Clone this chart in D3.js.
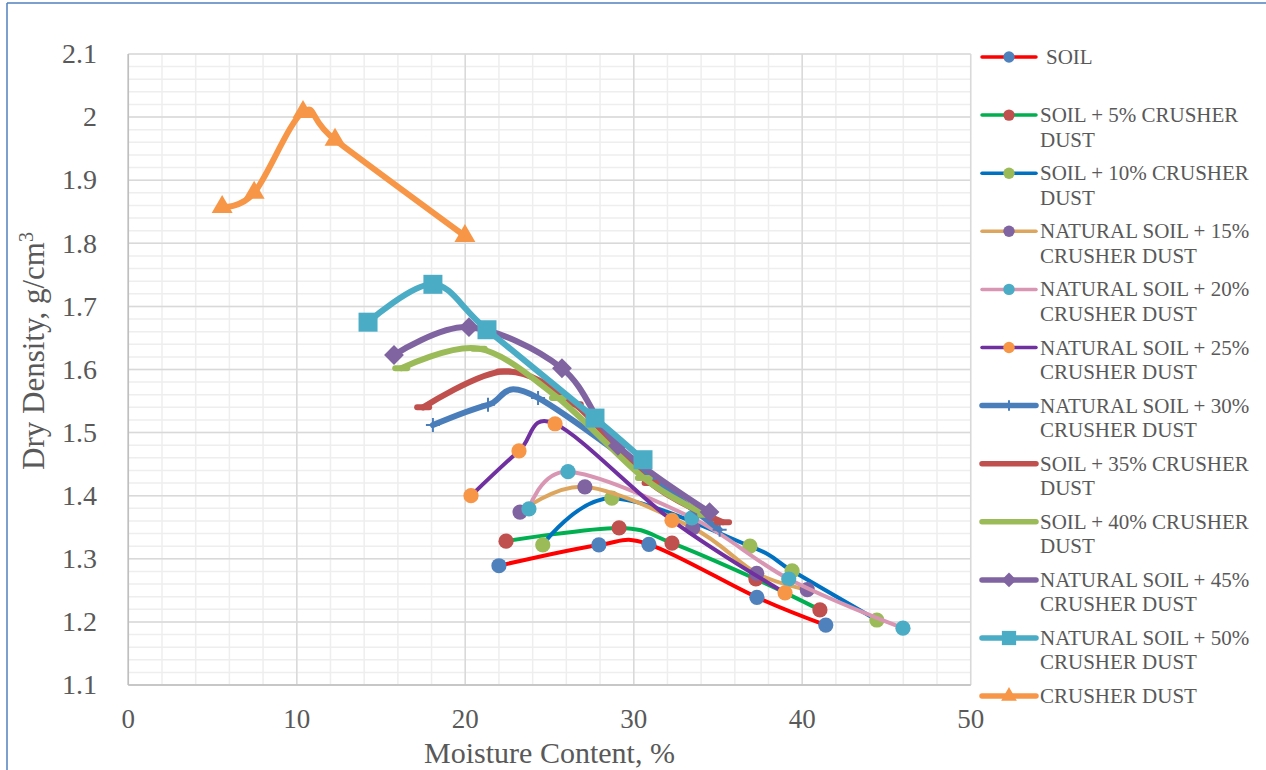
<!DOCTYPE html>
<html><head><meta charset="utf-8">
<script src="https://cdn.jsdelivr.net/npm/d3@7"></script>
<style>
body{margin:0;background:#fff}
svg{display:block}
text{font-family:"Liberation Serif","Times New Roman",serif;fill:#595959}
</style>
</head><body>
<svg id="c" width="1266" height="770"></svg>
<script>
// ---- data (moisture %, dry density g/cm3) ----
const soil  = [[22.0,1.289],[27.93,1.322],[30.9,1.323],[37.31,1.239],[41.4,1.195]];
const cd5   = [[22.42,1.328],[29.13,1.349],[32.27,1.325],[37.25,1.268],[41.05,1.219]];
const cd10  = [[24.6,1.322],[28.7,1.396],[36.9,1.320],[39.4,1.281],[44.43,1.203]];
const ns15  = [[23.25,1.374],[27.1,1.414],[33.5,1.349],[37.3,1.277],[40.3,1.251]];
const ns20  = [[23.78,1.379],[26.1,1.438],[33.45,1.365],[39.2,1.268],[45.98,1.19]];
const ns25  = [[20.34,1.40],[23.19,1.471],[25.33,1.514],[32.27,1.361],[38.98,1.246]];
const ns30  = [[18.08,1.512],[21.35,1.544],[24.32,1.555],[35.1,1.346]];
const cd35  = [[17.5,1.54],[22.3,1.597],[26.5,1.545],[31.0,1.42],[35.3,1.358]];
const cd40  = [[16.2,1.602],[20.8,1.633],[25.5,1.555],[30.6,1.428],[34.3,1.37]];
const ns45  = [[15.77,1.623],[20.22,1.667],[25.74,1.602],[29.06,1.479],[34.5,1.374]];
const ns50  = [[14.23,1.675],[18.08,1.735],[21.29,1.663],[27.7,1.523],[30.55,1.457]];
const dust  = [[5.57,1.8575],[7.47,1.88],[10.37,2.008],[12.27,1.964],[19.98,1.8116]];

const seriesData = [soil, cd5, cd10, ns15, ns20, ns25, ns30, cd35, cd40, ns45, ns50, dust];
const legendLines = [
  ["SOIL"],
  ["SOIL + 5% CRUSHER","DUST"],
  ["SOIL + 10% CRUSHER","DUST"],
  ["NATURAL SOIL + 15%","CRUSHER DUST"],
  ["NATURAL SOIL + 20%","CRUSHER DUST"],
  ["NATURAL SOIL + 25%","CRUSHER DUST"],
  ["NATURAL SOIL + 30%","CRUSHER DUST"],
  ["SOIL + 35% CRUSHER","DUST"],
  ["SOIL + 40% CRUSHER","DUST"],
  ["NATURAL SOIL + 45%","CRUSHER DUST"],
  ["NATURAL SOIL + 50%","CRUSHER DUST"],
  ["CRUSHER DUST"]
];
const xTicks = [0,10,20,30,40,50];
const yTicks = [1.1,1.2,1.3,1.4,1.5,1.6,1.7,1.8,1.9,2,2.1];
const xTitle = "Moisture Content, %";
const yTitle = "Dry Density, g/cm";

// ---- styles ----
const lineColors   = ["#ff0000","#00b050","#0070c0","#dda65f","#d996b2","#7030a0","#4a7ebb","#c0504d","#9bbb59","#8064a2","#4bacc6","#f79646"];
const markerColors = ["#4f81bd","#c0504d","#9bbb59","#8064a2","#4bacc6","#f79646","#4a7ebb","#c0504d","#9bbb59","#8064a2","#4bacc6","#f79646"];
const markerTypes  = ["circle","circle","circle","circle","circle","circle","plus","dash","dash","diamond","square","triangle"];
const lineWidths   = [4,4,4,4,4,4,6,6,6,6,6,6];

const svg = d3.select("#c");
const L = 128.3, R = 970.7, T = 54, B = 685;
const x = d3.scaleLinear().domain([0,50]).range([L,R]);
const y = d3.scaleLinear().domain([1.1,2.1]).range([B,T]);

// frame
svg.append("line").attr("x1",7).attr("x2",7).attr("y1",3).attr("y2",770).attr("stroke","#4f81bd").attr("stroke-width",1.5);
svg.append("line").attr("x1",7).attr("x2",1266).attr("y1",3).attr("y2",3).attr("stroke","#4f81bd").attr("stroke-width",1.5);

// gridlines
const g = svg.append("g");
const minorX = d3.range(0,50.001,2), minorY = d3.range(0,51).map(i=>1.1+i*0.02);
g.selectAll(".mx").data(minorX).join("line").attr("x1",d=>x(d)).attr("x2",d=>x(d)).attr("y1",T).attr("y2",B).attr("stroke","#eeeeee").attr("stroke-width",1.5);
g.selectAll(".my").data(minorY).join("line").attr("y1",d=>y(d)).attr("y2",d=>y(d)).attr("x1",L).attr("x2",R).attr("stroke","#eeeeee").attr("stroke-width",1.5);
g.selectAll(".Mx").data(xTicks).join("line").attr("x1",d=>x(d)).attr("x2",d=>x(d)).attr("y1",T).attr("y2",B).attr("stroke","#d9d9d9").attr("stroke-width",1.5);
g.selectAll(".My").data(yTicks).join("line").attr("y1",d=>y(d)).attr("y2",d=>y(d)).attr("x1",L).attr("x2",R).attr("stroke","#d9d9d9").attr("stroke-width",1.5);
// axis lines
g.append("line").attr("x1",L).attr("x2",L).attr("y1",T).attr("y2",B).attr("stroke","#bfbfbf").attr("stroke-width",1.5);
g.append("line").attr("x1",L).attr("x2",R).attr("y1",B).attr("y2",B).attr("stroke","#bfbfbf").attr("stroke-width",1.5);

// tick labels
svg.selectAll(".xt").data(xTicks).join("text").attr("x",d=>x(d)).attr("y",728)
  .attr("text-anchor","middle").attr("font-size",27).text(d=>d);
svg.selectAll(".yt").data(yTicks).join("text").attr("x",97).attr("y",d=>y(d)).attr("dy","0.33em")
  .attr("text-anchor","end").attr("font-size",28).text(d=>d3.format("")(d));

// titles
svg.append("text").attr("x",(L+R)/2).attr("y",763).attr("text-anchor","middle").attr("font-size",30).text(xTitle);
const yt = svg.append("text").attr("transform","translate(44,351) rotate(-90)").attr("text-anchor","middle").attr("font-size",31);
yt.append("tspan").text(yTitle);
yt.append("tspan").attr("font-size",20).attr("dy",-11).text("3");

// marker drawing
function drawMarker(sel, type, color, scale){
  const s = scale||1;
  if(type==="circle"){
    sel.append("circle").attr("r",7.6*s).attr("fill",color);
  } else if(type==="square"){
    sel.append("path").attr("d",d3.symbol(d3.symbolSquare, 19*19*s*s)()).attr("fill",color);
  } else if(type==="diamond"){
    sel.append("path").attr("d",d3.symbol(d3.symbolSquare, 14*14*s*s)()).attr("transform","rotate(45)").attr("fill",color);
  } else if(type==="triangle"){
    sel.append("path").attr("d",d3.symbol(d3.symbolTriangle, 190*s*s)()).attr("fill",color);
  } else if(type==="plus"){
    const h=7*s;
    sel.append("path").attr("d",`M${-h},0H${h}M0,${-h}V${h}`).attr("stroke",color).attr("stroke-width",2);
  } else if(type==="dash"){
    const h=6*s;
    sel.append("path").attr("d",`M${-h},0H${h}`).attr("stroke",color).attr("stroke-width",6).attr("stroke-linecap","round");
  }
}

// series
const line = d3.line().x(d=>x(d[0])).y(d=>y(d[1])).curve(d3.curveCardinal.tension(0));
seriesData.forEach((data,i)=>{
  const sg = svg.append("g");
  sg.append("path").attr("d",line(data)).attr("fill","none").attr("stroke",lineColors[i])
    .attr("stroke-width",lineWidths[i]).attr("stroke-linecap","round").attr("stroke-linejoin","round");
  data.forEach(p=>{
    const m = sg.append("g").attr("transform",`translate(${x(p[0])},${y(p[1])})`);
    drawMarker(m, markerTypes[i], markerColors[i], 1);
  });
});

// legend
const lg = svg.append("g");
legendLines.forEach((lines,i)=>{
  const base = 64 + i*58.1;
  const cy = base - 7;
  const it = lg.append("g");
  it.append("line").attr("x1",982).attr("x2",1036).attr("y1",cy).attr("y2",cy)
    .attr("stroke",lineColors[i]).attr("stroke-width",lineWidths[i]-0.5).attr("stroke-linecap","round");
  const m = it.append("g").attr("transform",`translate(1009,${cy})`);
  if(markerTypes[i]!=="dash") drawMarker(m, markerTypes[i], markerColors[i], 0.75);
  const t = it.append("text").attr("font-size",21);
  lines.forEach((s,j)=>{
    t.append("tspan").attr("x", i===0 ? 1046 : 1040).attr("y", base + j*24.4).text(s);
  });
});
</script>
</body></html>
